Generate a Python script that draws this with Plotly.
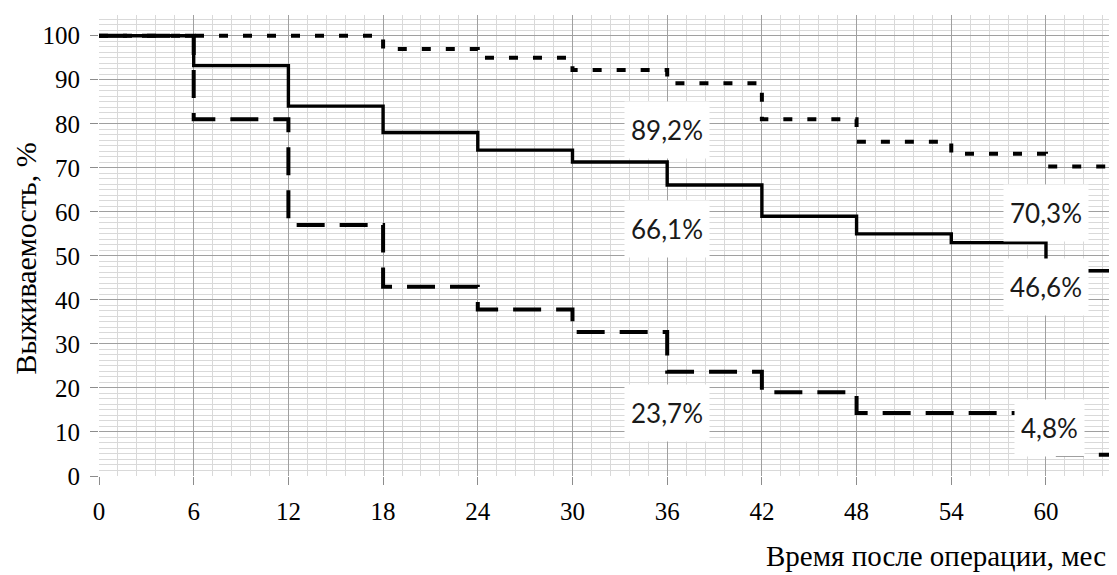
import plotly.graph_objects as go

months = [0, 6, 12, 18, 24, 30, 36, 42, 48, 54, 60, 66]
surv_best = [100, 100, 100, 97, 95, 92.2, 89.2, 81, 75.9, 73.2, 70.3, 70.3]
surv_mid = [100, 93.2, 84, 78, 74, 71.3, 66.1, 59, 55, 53, 46.6, 46.6]
surv_worst = [100, 81, 57, 43, 37.8, 32.7, 23.7, 19, 14.3, 14.3, 4.8, 4.8]

x_ticks = [0, 6, 12, 18, 24, 30, 36, 42, 48, 54, 60]
y_ticks = [0, 10, 20, 30, 40, 50, 60, 70, 80, 90, 100]

label_texts = ["89,2%", "66,1%", "23,7%", "70,3%", "46,6%", "4,8%"]
label_x = [36, 36, 36, 60, 60, 60.2]
label_y = [78.5, 56.2, 14.2, 59.7, 42.9, 10.8]

fig = go.Figure()
fig.add_trace(go.Scatter(x=months, y=surv_worst, mode="lines",
                         line=dict(shape="hv", color="black", width=4, dash="28px,15px"),
                         showlegend=False, hoverinfo="skip"))
fig.add_trace(go.Scatter(x=months, y=surv_best, mode="lines",
                         line=dict(shape="hv", color="black", width=4, dash="9px,15px"),
                         showlegend=False, hoverinfo="skip"))
fig.add_trace(go.Scatter(x=months, y=surv_mid, mode="lines",
                         line=dict(shape="hv", color="black", width=3.4),
                         showlegend=False, hoverinfo="skip"))

for t, xx, yy in zip(label_texts, label_x, label_y):
    fig.add_annotation(x=xx, y=yy, text=t, showarrow=False,
                       font=dict(family="Lato", size=26, color="#1a1a1a"),
                       bgcolor="white", borderpad=6, height=44)

fig.add_annotation(xref="paper", yref="paper", x=0.991, y=-0.1726,
                   xanchor="right", yanchor="middle", showarrow=False,
                   text="Время после операции, мес",
                   font=dict(family="Liberation Serif", size=29, color="black"))

fig.add_annotation(xref="paper", yref="y", x=-0.0727, y=49.4,
                   xanchor="center", yanchor="middle", showarrow=False,
                   textangle=-90, text="Выживаемость, %",
                   font=dict(family="Liberation Serif", size=30, color="black"))

fig.update_xaxes(range=[0, 64.5], tickvals=x_ticks, ticks="outside", ticklen=8,
                 tickcolor="#8c8c8c", showline=False, zeroline=False, automargin=False,
                 showgrid=True, gridcolor="#a0a0a0", gridwidth=1,
                 minor=dict(dtick=1.2, showgrid=True, gridcolor="#d9d9d9", gridwidth=1),
                 tickfont=dict(family="Liberation Serif", size=25, color="black"),
                 ticklabelstandoff=5)
fig.update_yaxes(range=[0, 104.7], tickvals=y_ticks, ticks="outside", ticklen=8,
                 tickcolor="#8c8c8c", showline=False, zeroline=False, automargin=False,
                 showgrid=True, gridcolor="#a0a0a0", gridwidth=1,
                 minor=dict(dtick=1.25, showgrid=True, gridcolor="#d9d9d9", gridwidth=1),
                 tickfont=dict(family="Liberation Serif", size=25, color="black"),
                 ticklabelstandoff=5)

fig.update_layout(width=1109, height=567, margin=dict(l=91, r=0, t=7, b=99),
                  plot_bgcolor="white", paper_bgcolor="white")

fig.write_html("out.html")
